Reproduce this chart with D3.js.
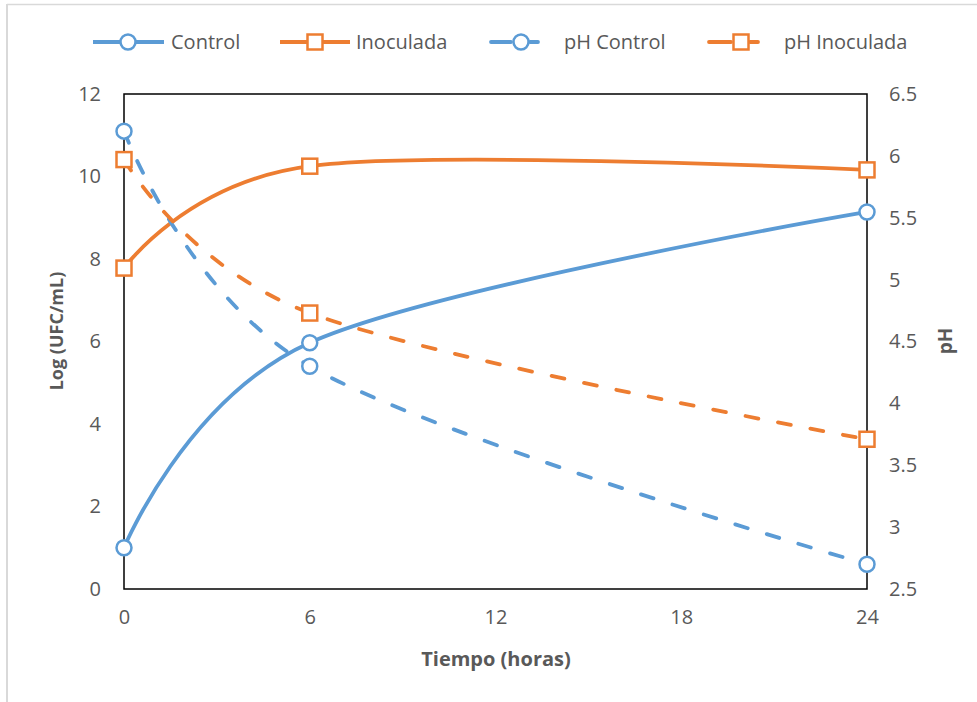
<!DOCTYPE html>
<html>
<head>
<meta charset="utf-8">
<script src="https://cdn.jsdelivr.net/npm/d3@7/dist/d3.min.js"></script>
<style>
  html, body { margin: 0; padding: 0; background: #fff; }
  svg text { font-family: "Open Sans", "Noto Sans", sans-serif; fill: #595959; }
</style>
</head>
<body>
<svg id="chart" width="977" height="702"></svg>
<script>
// Time points (hours)
const horas = [0, 6, 24];
// Bacterial counts, Log (UFC/mL) — left axis
const control = [1.0, 5.97, 9.14];
const inoculada = [7.78, 10.25, 10.16];
// pH — right axis
const phControl = [6.2, 4.3, 2.7];
const phInoculada = [5.97, 4.73, 3.71];

const xTicks = [0, 6, 12, 18, 24];
const yLeftTicks = [0, 2, 4, 6, 8, 10, 12];
const yRightTicks = [2.5, 3, 3.5, 4, 4.5, 5, 5.5, 6, 6.5];

const blue = "#5b9bd5", orange = "#ed7d31";

const svg = d3.select("#chart");
const m = { left: 124, right: 867, top: 94, bottom: 589 };

const x = d3.scaleLinear().domain([0, 24]).range([m.left, m.right]);
const yL = d3.scaleLinear().domain([0, 12]).range([m.bottom, m.top]);
const yR = d3.scaleLinear().domain([2.5, 6.5]).range([m.bottom, m.top]);

// outer chart border (top and left)
svg.append("line").attr("x1", 7).attr("x2", 977).attr("y1", 4.5).attr("y2", 4.5)
  .attr("stroke", "#d9d9d9").attr("stroke-width", 1.5);
svg.append("line").attr("x1", 7).attr("x2", 7).attr("y1", 4).attr("y2", 702)
  .attr("stroke", "#d9d9d9").attr("stroke-width", 2);

// plot frame
svg.append("rect").attr("x", m.left).attr("y", m.top)
  .attr("width", m.right - m.left).attr("height", m.bottom - m.top)
  .attr("fill", "none").attr("stroke", "#000").attr("stroke-width", 1.5);

// axes
const fs = "20px";
const axB = svg.append("g").attr("transform", `translate(0,${m.bottom})`)
  .call(d3.axisBottom(x).tickValues(xTicks).tickSize(0).tickPadding(21).tickFormat(d3.format("d")));
const axL = svg.append("g").attr("transform", `translate(${m.left},0)`)
  .call(d3.axisLeft(yL).tickValues(yLeftTicks).tickSize(0).tickPadding(23).tickFormat(d3.format("d")));
const axR = svg.append("g").attr("transform", `translate(${m.right},0)`)
  .call(d3.axisRight(yR).tickValues(yRightTicks).tickSize(0).tickPadding(22).tickFormat(d => d3.format("")(d)));
[axB, axL, axR].forEach(a => {
  a.select(".domain").remove();
  a.selectAll("text").style("font-size", fs).style("font-family", null).attr("fill", "#595959");
});

// axis titles
svg.append("text").attr("x", 496).attr("y", 666).attr("text-anchor", "middle")
  .style("font-size", "20px").style("font-weight", "bold").text("Tiempo (horas)");
svg.append("text").attr("transform", "translate(63,331) rotate(-90)").attr("text-anchor", "middle")
  .style("font-size", "18px").style("font-weight", "bold").text("Log (UFC/mL)");
svg.append("text").attr("transform", "translate(952,341) rotate(-90)").attr("text-anchor", "middle")
  .style("font-size", "19px").style("font-weight", "bold").text("pH");

// smoothed lines (cardinal spline, 1/6 tangent factor)
const curve = d3.curveCardinal.tension(0);
const series = [
  { name: "Control", vals: control, y: yL, color: blue, dash: null, marker: "circle" },
  { name: "Inoculada", vals: inoculada, y: yL, color: orange, dash: null, marker: "square" },
  { name: "pH Control", vals: phControl, y: yR, color: blue, dash: "13,20", marker: "circle" },
  { name: "pH Inoculada", vals: phInoculada, y: yR, color: orange, dash: "13,20", marker: "square" }
];

const plot = svg.append("g");
function drawMarker(g, type, cx, cy, color) {
  if (type === "circle") {
    g.append("circle").attr("cx", cx).attr("cy", cy).attr("r", 7.5)
      .attr("fill", "#fff").attr("stroke", color).attr("stroke-width", 2.5);
  } else {
    g.append("rect").attr("x", cx - 7.5).attr("y", cy - 7.5).attr("width", 15).attr("height", 15)
      .attr("fill", "#fff").attr("stroke", color).attr("stroke-width", 2.5);
  }
}

series.forEach(s => {
  const line = d3.line().x((d, i) => x(horas[i])).y(d => s.y(d)).curve(curve);
  plot.append("path").datum(s.vals).attr("d", line)
    .attr("fill", "none").attr("stroke", s.color).attr("stroke-width", 3.8)
    .attr("stroke-linecap", s.dash ? "round" : "butt")
    .attr("stroke-dasharray", s.dash);
});
series.forEach(s => {
  s.vals.forEach((v, i) => drawMarker(plot, s.marker, x(horas[i]), s.y(v), s.color));
});

// legend
const legend = [
  { s: series[0], x0: 93, x1: 164, mx: 128, tx: 171 },
  { s: series[1], x0: 280, x1: 350, mx: 315, tx: 356 },
  { s: series[2], x0: 489, x1: 555, mx: 521, tx: 564 },
  { s: series[3], x0: 707, x1: 775, mx: 741, tx: 784 }
];
const ly = 42;
legend.forEach(l => {
  const g = svg.append("g");
  if (l.s.dash) {
    g.append("line").attr("x1", l.x0 + 2).attr("x2", l.mx - 10).attr("y1", ly).attr("y2", ly)
      .attr("stroke", l.s.color).attr("stroke-width", 3.8).attr("stroke-linecap", "round");
    g.append("line").attr("x1", l.mx + 9).attr("x2", l.mx + 17).attr("y1", ly).attr("y2", ly)
      .attr("stroke", l.s.color).attr("stroke-width", 3.8).attr("stroke-linecap", "round");
  } else {
    g.append("line").attr("x1", l.x0).attr("x2", l.x1).attr("y1", ly).attr("y2", ly)
      .attr("stroke", l.s.color).attr("stroke-width", 3.8);
  }
  drawMarker(g, l.s.marker, l.mx, ly, l.s.color);
  g.append("text").attr("x", l.tx).attr("y", ly).attr("dy", "0.35em")
    .style("font-size", "20px").text(l.s.name);
});
</script>
</body>
</html>
